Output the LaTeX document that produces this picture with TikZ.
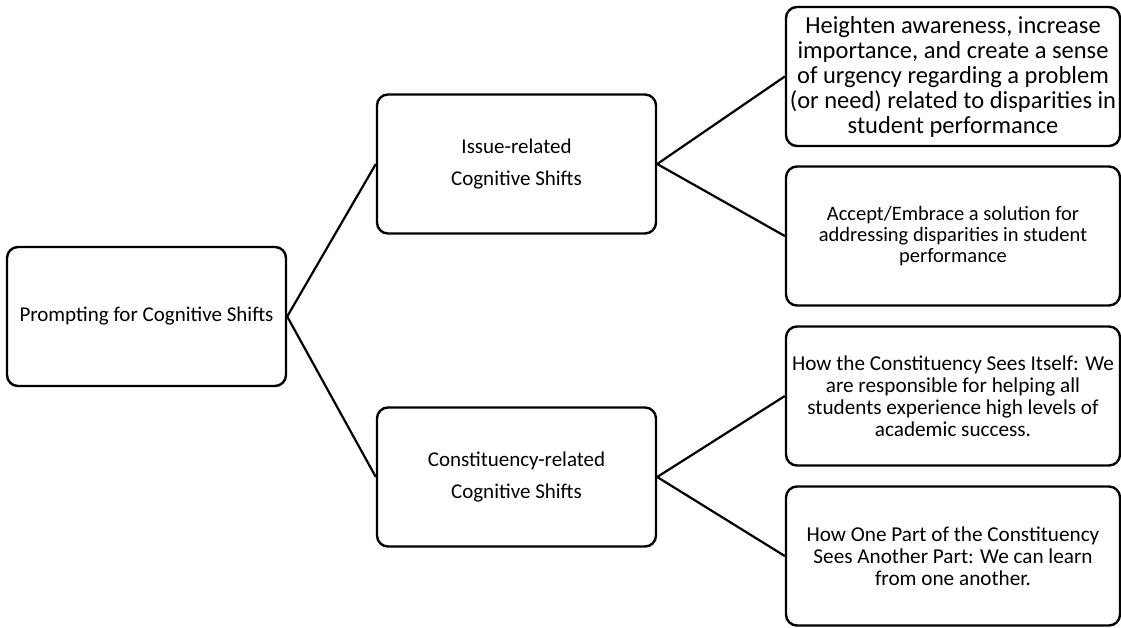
\documentclass[tikz,border=0pt]{standalone}
\usepackage{fontspec}
\setmainfont{Carlito}
\begin{document}
\begin{tikzpicture}[x=1pt,y=-1pt,
  box/.style={draw, line width=2.4pt, rounded corners=11pt, align=center, inner sep=0pt},
  midbox/.style={box, minimum width=279pt, minimum height=139pt},
  leafbox/.style={box, minimum width=334pt, minimum height=139pt},
  link/.style={line width=2.2pt}]
\useasboundingbox (0,0) rectangle (1121,627);
\node[midbox, font=\fontsize{21}{22}\selectfont] (root) at (146.5,316.5) {Prompting for Cognitive Shifts};
\node[midbox, font=\fontsize{21}{32}\selectfont] (issue) at (516.5,164) {Issue-related\\Cognitive Shifts};
\node[midbox, font=\fontsize{21}{32}\selectfont] (const) at (516.5,477) {Constituency-related\\Cognitive Shifts};
\node[leafbox, font=\fontsize{24.5}{25}\selectfont] (l1) at (953,76.5) {Heighten awareness, increase\\importance, and create a sense\\of urgency regarding a problem\\(or need) related to disparities in\\student performance};
\node[leafbox, font=\fontsize{20.5}{21}\selectfont] (l2) at (953,236) {Accept/Embrace a solution for\\addressing disparities in student\\performance};
\node[leafbox, font=\fontsize{21.2}{22}\selectfont] (l3) at (953,396) {How the Constituency Sees Itself: We\\are responsible for helping all\\students experience high levels of\\academic success.};
\node[leafbox, font=\fontsize{21.2}{22}\selectfont] (l4) at (953,556) {How One Part of the Constituency\\Sees Another Part: We can learn\\from one another.};
\draw[link] (root.east) -- (issue.west);
\draw[link] (root.east) -- (const.west);
\draw[link] (issue.east) -- (l1.west);
\draw[link] (issue.east) -- (l2.west);
\draw[link] (const.east) -- (l3.west);
\draw[link] (const.east) -- (l4.west);
\end{tikzpicture}
\end{document}
